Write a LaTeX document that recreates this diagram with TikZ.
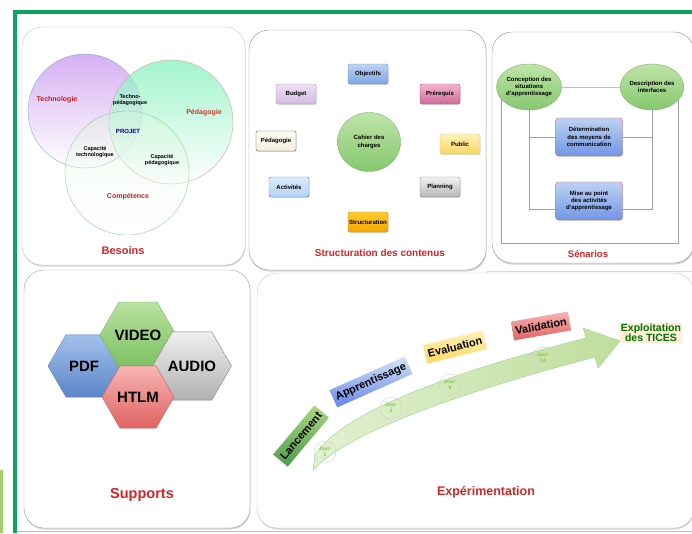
\documentclass[tikz,border=0pt]{standalone}
\usepackage{fontspec}
\setmainfont{Liberation Sans}
\usetikzlibrary{shapes,shadows}
\pgfdeclarelayer{background}
\pgfsetlayers{background,main}
\definecolor{frameg}{HTML}{0BA35E}
\definecolor{titred}{HTML}{D42426}
\definecolor{linkc}{HTML}{9A9CC0}
\definecolor{jourg}{HTML}{8BC34A}
% venn colours
\definecolor{techT}{HTML}{D6B0F2}
\definecolor{techD}{HTML}{8EA8DC}
\definecolor{pedT}{HTML}{7CF0B8}
\definecolor{pedD}{HTML}{D8A0A0}
\definecolor{compT}{HTML}{D8F5D8}
\definecolor{compD}{HTML}{88D888}
% box colours
\definecolor{objT}{HTML}{BCD2F2}\definecolor{objB}{HTML}{7FA6E2}\definecolor{objD}{HTML}{7090C8}
\definecolor{preT}{HTML}{F2B4CE}\definecolor{preB}{HTML}{D06A98}\definecolor{preD}{HTML}{B05080}
\definecolor{budT}{HTML}{EEE0F4}\definecolor{budB}{HTML}{D2BCE2}\definecolor{budD}{HTML}{A890B8}
\definecolor{pedaT}{HTML}{FDFCF4}\definecolor{pedaB}{HTML}{F4F0DC}\definecolor{pedaD}{HTML}{555555}
\definecolor{pubT}{HTML}{FFF2B8}\definecolor{pubB}{HTML}{FCD864}\definecolor{pubD}{HTML}{E6C466}
\definecolor{actT}{HTML}{DCECFC}\definecolor{actB}{HTML}{B2D2F6}\definecolor{actD}{HTML}{5080C0}
\definecolor{plaT}{HTML}{F2F2F2}\definecolor{plaB}{HTML}{B6B6B6}\definecolor{plaD}{HTML}{888888}
\definecolor{strT}{HTML}{FFCC30}\definecolor{strB}{HTML}{F4A600}\definecolor{strD}{HTML}{D08800}
\definecolor{cahT}{HTML}{BEE4A8}\definecolor{cahB}{HTML}{86C86E}\definecolor{cahD}{HTML}{80B070}
% hexagon colours
\definecolor{pdfT}{HTML}{A4C0EC}\definecolor{pdfB}{HTML}{5A86C8}\definecolor{pdfD}{HTML}{5B7FBF}
\definecolor{vidT}{HTML}{B8E2A0}\definecolor{vidB}{HTML}{7CC060}\definecolor{vidD}{HTML}{78B060}
\definecolor{audT}{HTML}{F0F0F0}\definecolor{audB}{HTML}{B0B0B0}\definecolor{audD}{HTML}{808080}
\definecolor{htmT}{HTML}{F8B4B4}\definecolor{htmB}{HTML}{E06262}\definecolor{htmD}{HTML}{C06060}
\tikzstyle{panel}=[draw=gray!75,fill=white,rounded corners=20pt,drop shadow={shadow xshift=0.5pt,shadow yshift=-1.5pt,opacity=.35}]
\tikzstyle{paneltitle}=[text=titred,font=\bfseries\fontsize{10}{12}\selectfont]
\tikzstyle{vlabel}=[align=center,font=\bfseries\fontsize{7}{8}\selectfont]
\tikzstyle{vsmall}=[align=center,font=\bfseries\fontsize{5.5}{6.5}\selectfont]
\tikzstyle{cbox}=[rectangle,rounded corners=2pt,minimum width=40pt,minimum height=20pt,inner sep=1pt,font=\bfseries\fontsize{6}{7}\selectfont,drop shadow={shadow xshift=0.5pt,shadow yshift=-0.8pt,opacity=.3}]
\tikzstyle{scirc}=[ellipse,draw=cahD,top color=cahT,bottom color=cahB,minimum width=62pt,minimum height=46pt,inner sep=0pt,align=center,font=\bfseries\fontsize{6}{7.3}\selectfont]
\tikzstyle{sbox}=[rectangle,rounded corners=3pt,draw=titred!70,top color=objT,bottom color=objB!90!blue,minimum width=67pt,minimum height=38pt,inner sep=1pt,align=center,font=\bfseries\fontsize{6}{7.3}\selectfont,drop shadow={shadow xshift=0.5pt,shadow yshift=-0.8pt,opacity=.3}]
\tikzstyle{link}=[draw=linkc,line width=1pt]
\tikzstyle{hexa}=[regular polygon,regular polygon sides=6,minimum size=72pt,inner sep=0pt,font=\bfseries\fontsize{15}{15}\selectfont]
\tikzstyle{phase}=[rectangle,inner xsep=3pt,minimum height=19pt,font=\bfseries\fontsize{11}{11}\selectfont]
\tikzstyle{jour}=[circle,draw=gray!35,minimum size=22pt,inner sep=0pt,align=center,text=jourg,font=\bfseries\fontsize{5}{5.5}\selectfont]

\begin{document}
\begin{tikzpicture}[x=1pt,y=-1pt]
    \useasboundingbox (0,0) rectangle (692,533);
    % First we draw the frame and the panels
    \begin{pgfonlayer}{background}
        \fill[jourg!80] (0,470) rectangle (3,533);
        \draw[frameg!45,line width=1pt] (18,531.5) -- (692,531.5);
        \draw[frameg,line width=4.5pt] (15,533) -- (15,12) -- (694,12);
        \draw[gray!30] (487,276) -- (487,271) -- (692,271);
        \draw[panel,draw=gray!45] (22,27) rectangle (245,265);
        \draw[panel,draw=gray!85] (249,30) rectangle (486,270);
        \draw[panel,draw=gray!85] (492,32) rectangle (694,263);
        \draw[panel] (24,270) rectangle (250,528);
        \draw[panel,draw=gray!45] (257,273) rectangle (694,528);
    \end{pgfonlayer}

    % Besoins
    \draw[techD,top color=techT,bottom color=white] (85,111) circle (57);
    \draw[pedD,top color=pedT,bottom color=white,fill opacity=.7] (171,122) circle (62);
    \draw[compD,top color=compT,bottom color=white,fill opacity=.35] (127,173) circle (62);
    \node[vlabel,text=titred!90!black] (tec) at (57,100) {Technologie};
    \node[vlabel,text=titred!80!brown] (ped) at (204,113) {Pédagogie};
    \node[vlabel,text=titred!90!black] (com) at (128,197) {Compétence};
    \node[vsmall] (tp) at (130,100) {Techno-\\pédagogique};
    \node[vsmall,text=blue!60!black,font=\bfseries\fontsize{6}{7}\selectfont] (prj) at (128,131) {PROJET};
    \node[vsmall] (ctec) at (95,152) {Capacité\\technologique};
    \node[vsmall] (cped) at (162,160) {Capacité\\pédagogique};
    \node[paneltitle,font=\bfseries\fontsize{11}{12}\selectfont] (bes) at (123,251) {Besoins};

    % Structuration des contenus
    \node[ellipse,draw=cahD,top color=cahT,bottom color=cahB,minimum width=63pt,minimum height=59pt,align=center,font=\bfseries\fontsize{6}{7.3}\selectfont] (cah) at (369,142) {Cahier des\\charges};
    \foreach \pos/\name/\txt/\ctop/\cbot/\cdr in {{(368,74)/obj/Objectifs/objT/objB/objD}, {(440,94)/pre/Prérequis/preT/preB/preD},
        {(296,94)/bud/Budget/budT/budB/budD}, {(276,141)/peda/Pédagogie/pedaT/pedaB/pedaD}, {(460,144)/pub/Public/pubT/pubB/pubD},
        {(289,187)/act/Activités/actT/actB/actD}, {(440,187)/pla/Planning/plaT/plaB/plaD}, {(368,222)/str/Structuration/strT/strB/strD}}
        \node[cbox,top color=\ctop,bottom color=\cbot,draw=\cdr] (\name) at \pos {\txt};
    \node[paneltitle] (stc) at (380,253) {Structuration des contenus};

    % Sénarios
    \node[scirc] (conc) at (529,87) {Conception des\\situations\\d'apprentissage};
    \node[scirc] (desc) at (652,87) {Description des\\interfaces};
    \node[sbox] (det) at (589,137) {Détermination\\des moyens de\\communication};
    \node[sbox] (mise) at (589,201) {Mise au point\\des activités\\d'apprentissage};
    \coordinate (bl) at (501,243);
    \coordinate (br) at (678,243);
    % Connect them behind the nodes
    \begin{pgfonlayer}{background}
        \path[link] (conc.center) -- (desc.center) -- (desc.center -| br) -- (br) -- (bl) -- (bl |- conc.center) -- cycle;
        \path[link] (conc) |- (det);
        \path[link] (conc) |- ([yshift=-8pt]mise.west);
        \path[link] (desc) |- (det);
        \path[link] (desc) |- ([yshift=-8pt]mise.east);
    \end{pgfonlayer}
    \node[paneltitle,font=\bfseries\fontsize{9.5}{11}\selectfont] (sen) at (588,254) {Sénarios};

    % Supports
    \foreach \pos/\name/\txt/\ctop/\cbot/\cdr in {{(84,366)/pdf/PDF/pdfT/pdfB/pdfD}, {(138,335)/vid/VIDEO/vidT/vidB/vidD},
        {(192,366)/aud/AUDIO/audT/audB/audD}, {(138,397)/htm/HTLM/htmT/htmB/htmD}}
        \node[hexa,top color=\ctop,bottom color=\cbot,draw=\cdr] (\name) at \pos {\txt};
    \node[paneltitle,font=\bfseries\fontsize{14.5}{16}\selectfont] (sup) at (142,495) {Supports};

    % Expérimentation
    \path[draw=gray!50!green!60,left color=jourg!25,right color=jourg!55] (315,455) .. controls (340,415) and (440,375) .. (586,338)
        -- (583,328) -- (620,341) -- (598,368) -- (595,357) .. controls (470,390) and (350,430) .. (313,470) -- cycle;
    \foreach \pos/\name/\txt in {{(325,452)/j1/1}, {(391,408)/j4/4}, {(450,385)/j8/8}, {(543,358)/j14/14}}
        \node[jour] (\name) at \pos {Jour-\\\txt};
    \node[phase,rotate=50,top color=jourg!70,bottom color=green!45!black!70] (lan) at (301,436) {Lancement};
    \node[phase,rotate=24,top color=objT!60,bottom color=objB!80!blue] (app) at (371,382) {Apprentissage};
    \node[phase,rotate=14,top color=pubT,bottom color=pubB] (eva) at (455,347) {Evaluation};
    \node[phase,rotate=10,top color=htmT,bottom color=htmB] (val) at (541,326) {Validation};
    \node[rectangle,fill=orange!15,inner sep=1pt,align=center,text=green!45!black,font=\bfseries\fontsize{10.5}{10}\selectfont] (exp) at (651,333) {Exploitation\\des TICES};
    \node[paneltitle,font=\bfseries\fontsize{12.5}{14}\selectfont] (expt) at (486,492) {Expérimentation};
\end{tikzpicture}
\end{document}
